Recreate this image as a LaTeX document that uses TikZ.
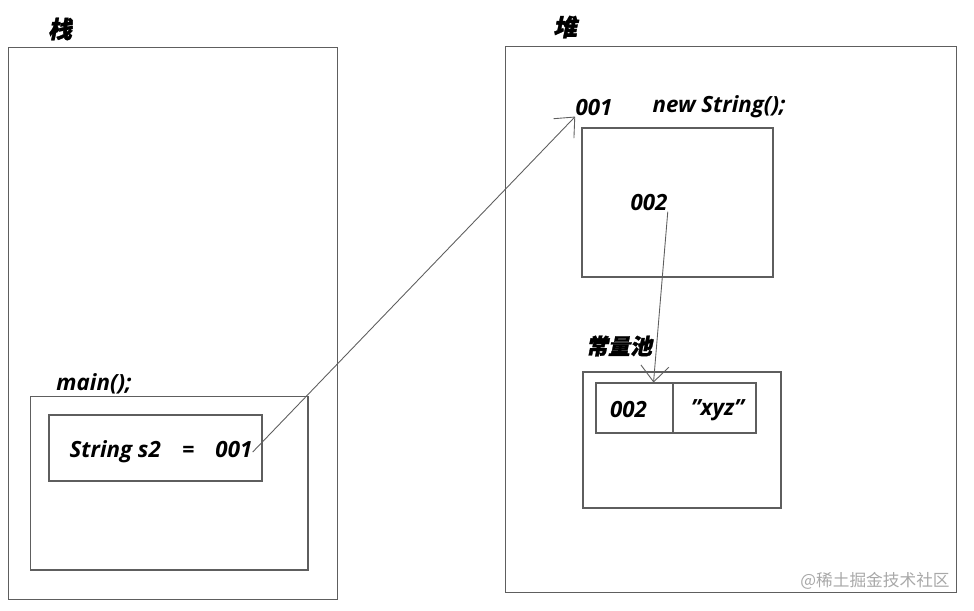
\documentclass[tikz,border=0pt]{standalone}
\usepackage{fontspec}
\setmainfont{Open Sans}
\newfontfamily\cjk[FakeSlant=0.2,FakeBold=1.5]{Noto Sans CJK SC}
\newfontfamily\cjkmark{Noto Sans CJK SC}
\usetikzlibrary{arrows.meta}
\definecolor{framegray}{HTML}{5E5E5E}
\definecolor{markgray}{HTML}{A8A8A8}

\begin{document}
\begin{tikzpicture}[x = 0.02cm, y = -0.02cm,
        box/.style = {draw = framegray, line width = 0.6pt, inner sep = 0pt},
        lbl/.style = {font = \bfseries\itshape\fontsize{12.7}{14}\selectfont, inner sep = 0pt},
        cjklbl/.style = {inner sep = 0pt, font = \bfseries\itshape\cjk\fontsize{#1}{15}\selectfont},
        ptr/.style = {draw = framegray, line width = 0.5pt,
            -{Straight Barb[length = 9pt, width = 16pt]}}]
    \useasboundingbox (0, 0) rectangle (974, 610);

    % stack side
    \draw
        (173, 323.5) node (stack) [box, minimum width = 6.6cm, minimum height = 11.06cm] {}
        (169, 483)   node (mainframe) [box, minimum width = 5.56cm, minimum height = 3.48cm] {}
        (155.5, 448) node (s2box) [box, minimum width = 4.26cm, minimum height = 1.32cm] {}
        (60, 29)     node (stacklbl) [cjklbl = 13.5] {栈}
        (94, 384)    node (mainlbl) [lbl] {main();}
        (161, 452)   node (s2) [lbl] {String s2\hspace{0.95em}=\hspace{0.95em}001};

    % heap side
    \draw
        (731, 319.5) node (heap) [box, minimum width = 9.04cm, minimum height = 10.94cm] {}
        (677.5, 202.5) node (obj) [box, minimum width = 3.82cm, minimum height = 2.98cm] {}
        (682, 440)   node (pool) [box, minimum width = 3.96cm, minimum height = 2.72cm] {}
        (634.5, 408) node (cella) [box, minimum width = 1.54cm, minimum height = 1cm] {}
        (714.5, 408) node (cellb) [box, minimum width = 1.66cm, minimum height = 1cm] {}
        (565, 27)    node (heaplbl) [cjklbl = 13.5] {堆}
        (594, 108)   node (ref) [lbl] {001}
        (719, 107)   node (newlbl) [lbl] {new String();}
        (649, 203)   node (inner) [lbl] {002}
        (619, 346)   node (poollbl) [cjklbl = 12.5] {常量池}
        (628.5, 410) node (key) [lbl] {002}
        (717.5, 410) node (val) [lbl] {\symbol{34}xyz\symbol{34}}
        (875, 581)   node (mark) [text = markgray, font = \cjkmark\fontsize{9.5}{11}\selectfont, inner sep = 0pt] {@稀土掘金技术社区};

    % references
    \draw[ptr] (s2.east) -- (ref.south west);
    \draw[ptr] (inner.south east) -- ([xshift = -0.4cm] cella.north east);
\end{tikzpicture}
\end{document}
